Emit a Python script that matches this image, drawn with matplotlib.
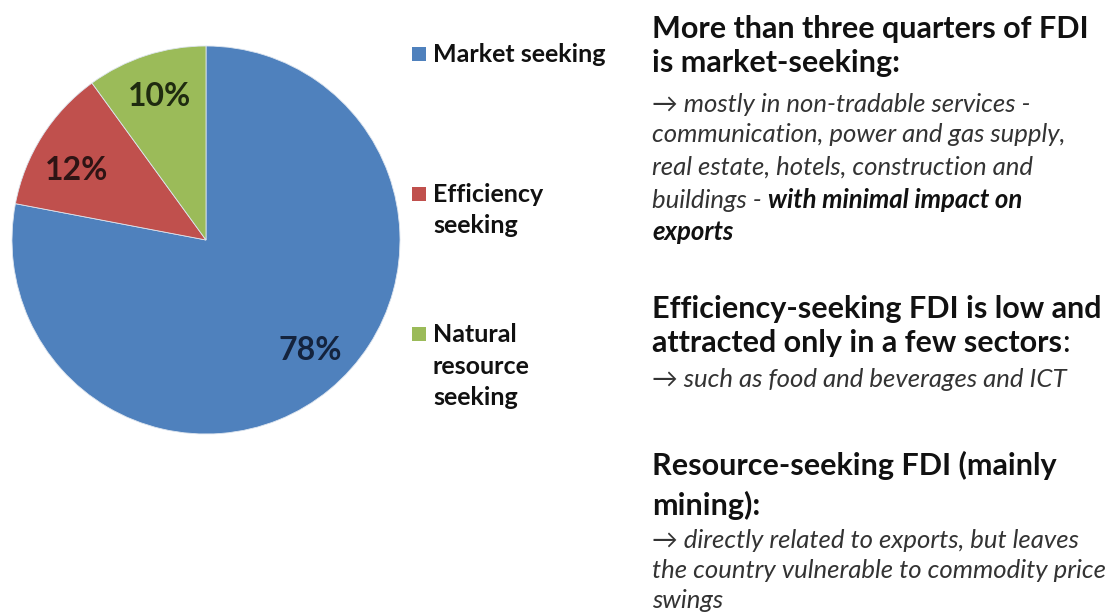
import matplotlib
matplotlib.use("Agg")
import matplotlib.pyplot as plt
from matplotlib.patches import Rectangle

plt.rcParams['font.family'] = ['Lato', 'DejaVu Sans']

# FDI by motive, share in %
categories = ['Market seeking', 'Efficiency\nseeking', 'Natural\nresource\nseeking']
shares = [78, 12, 10]
colors = ['#4F81BD', '#C0504D', '#9BBB59']
pct_colors = ['#14233d', '#2e1414', '#1f2b10']

W, H = 1114, 616
fig = plt.figure(figsize=(W / 100, H / 100), dpi=100)


def fx(x):
    return x / W


def fy(y):
    return 1 - y / H


# pie, placed in pixel units
cx, cy, r = 206, 240, 194
ax = fig.add_axes([fx(cx - r), fy(cy + r), 2 * r / W, 2 * r / H])
wedges, _, autotexts = ax.pie(
    shares, colors=colors, startangle=90, counterclock=False,
    autopct='%.0f%%', pctdistance=0.78,
    wedgeprops=dict(edgecolor='#dde5ef', linewidth=0.6),
    textprops=dict(fontsize=23, fontweight='bold'))
# small nudges so the percentages sit like the original office chart
nudges = [(0.04, 0.03), (-0.01, -0.06), (0.0, 0.0)]
for t, c, (dx, dy) in zip(autotexts, pct_colors, nudges):
    t.set_color(c)
    x, y = t.get_position()
    t.set_position((x + dx, y + dy))
ax.set_xlim(-1, 1)
ax.set_ylim(-1, 1)

# legend: square + (multi-line) label, top line aligned with the square
legend_base = [62, 202, 342]
for name, col, yb in zip(categories, colors, legend_base):
    fig.add_artist(Rectangle((fx(412), fy(yb - 1)), 14 / W, 14 / H,
                             transform=fig.transFigure, color=col, lw=0))
    for i, line in enumerate(name.split('\n')):
        fig.text(fx(433), fy(yb + i * 31.5), line, fontsize=18,
                 fontweight='bold', color='#111111', va='baseline')

# commentary on the right
styles = {
    'h': dict(fontsize=22, fontweight='bold', color='#111111'),
    'hn': dict(fontsize=22, fontweight='normal', color='#111111'),
    'i': dict(fontsize=18.5, style='italic', color='#333333'),
    'bi': dict(fontsize=18.5, style='italic', fontweight='bold', color='#111111'),
}
lines = [
    (38, [('More than three quarters of FDI', 'h')]),
    (72, [('is market-seeking:', 'h')]),
    (112, [('\u2192 mostly in non-tradable services -', 'i')]),
    (142, [('communication, power and gas supply,', 'i')]),
    (175, [('real estate, hotels, construction and', 'i')]),
    (208, [('buildings - ', 'i'), ('with minimal impact on', 'bi')]),
    (240, [('exports', 'bi')]),
    (318, [('Efficiency-seeking FDI is low and', 'h')]),
    (352, [('attracted only in a few sectors', 'h'), (':', 'hn')]),
    (387, [('\u2192 such as food and beverages and ICT', 'i')]),
    (475, [('Resource-seeking FDI (mainly', 'h')]),
    (515, [('mining):', 'h')]),
    (548, [('\u2192 directly related to exports, but leaves', 'i')]),
    (578, [('the country vulnerable to commodity price', 'i')]),
    (608, [('swings', 'i')]),
]

renderer = fig.canvas.get_renderer()
for yb, runs in lines:
    x = 652
    for text, st in runs:
        t = fig.text(fx(x), fy(yb), text, va='baseline', **styles[st])
        x = t.get_window_extent(renderer).x1

fig.savefig('out.png', dpi=100)
